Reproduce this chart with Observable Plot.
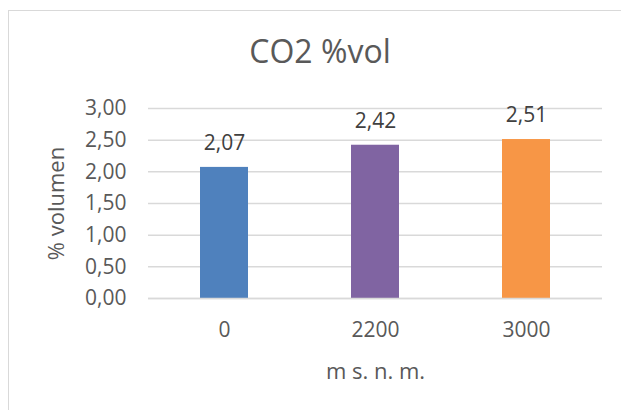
<!DOCTYPE html>
<html>
<head>
<meta charset="utf-8">
<script src="https://cdn.jsdelivr.net/npm/d3@7"></script>
<script src="https://cdn.jsdelivr.net/npm/@observablehq/plot@0.6"></script>
<style>
  html, body { margin: 0; padding: 0; background: #fff; overflow: hidden; }
  #wrap { position: relative; width: 621px; height: 410px; overflow: hidden; font-family: "Open Sans", sans-serif; }
  #frame { position: absolute; left: 8px; top: 10px; width: 720px; height: 520px; border: 1.5px solid #d9d9d9; box-sizing: border-box; }
  #title { position: absolute; left: 0; width: 640px; top: 35px; text-align: center; font-size: 32px; color: #595959; line-height: 1; }
  #chart { position: absolute; left: 0; top: 0; }
</style>
</head>
<body>
<div id="wrap">
  <div id="frame"></div>
  <div id="chart"></div>
  <div id="title">CO2 %vol</div>
</div>
<script>
const categories = ["0", "2200", "3000"];
const values = [2.07, 2.42, 2.51];
const colors = ["#4f81bd", "#8064a2", "#f79646"];
const yTicks = [0, 0.5, 1, 1.5, 2, 2.5, 3];

const data = categories.map((c, i) => ({ cat: c, value: values[i] }));
const fmt = d => d.toFixed(2).replace(".", ",");

const chart = Plot.plot({
  width: 621,
  height: 410,
  marginLeft: 148,
  marginRight: 19,
  marginTop: 108,
  marginBottom: 112,
  style: { fontFamily: "'Open Sans', sans-serif", fontSize: "21px", color: "#595959", background: "transparent" },
  x: { domain: categories, paddingInner: 0.683, paddingOuter: 0.3415, label: null },
  y: { domain: [0, 3], label: null },
  color: { domain: categories, range: colors },
  marks: [
    Plot.gridY(yTicks, { stroke: "#d9d9d9", strokeOpacity: 1, strokeWidth: 1.5 }),
    Plot.barY(data, { x: "cat", y: "value", fill: "cat" }),
    Plot.ruleY([0], { stroke: "#d9d9d9", strokeWidth: 1.5 }),
    Plot.text(data, { x: "cat", y: "value", text: d => fmt(d.value), dy: -24, fill: "#404040", fontSize: 21 }),
    Plot.axisY({ ticks: yTicks, tickFormat: fmt, tickSize: 0, tickPadding: 22, fill: "#595959", fontSize: 21, label: null }),
    Plot.axisY({ ticks: [], tickSize: 0, fill: "#595959", fontSize: 22, label: "% volumen", labelAnchor: "center", labelOffset: 100, labelArrow: "none" }),
    Plot.axisX({ tickSize: 0, tickPadding: 24, fill: "#595959", fontSize: 21, label: null }),
    Plot.axisX({ ticks: [], tickSize: 0, fill: "#595959", fontSize: 22, label: "m s. n. m.", labelAnchor: "center", labelOffset: 80, labelArrow: "none" })
  ]
});
document.getElementById("chart").appendChild(chart);
</script>
</body>
</html>
